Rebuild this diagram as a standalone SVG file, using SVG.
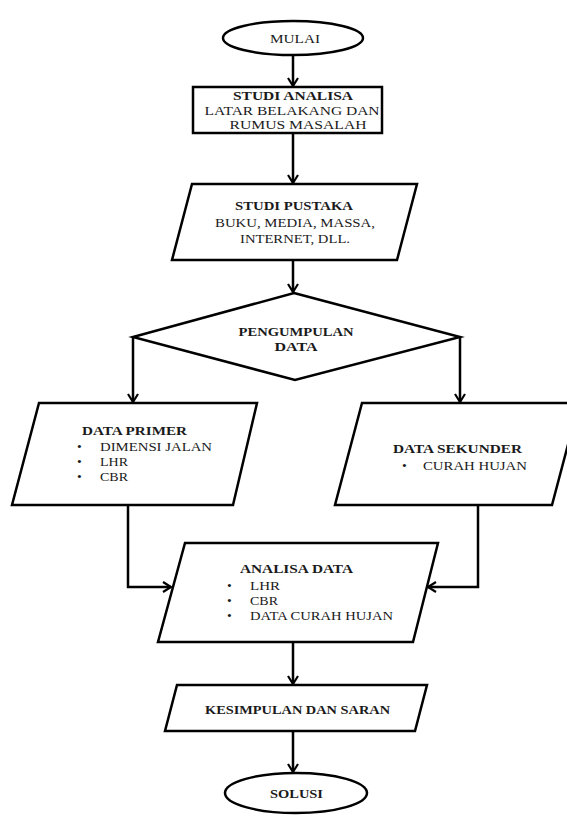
<svg xmlns="http://www.w3.org/2000/svg" width="567" height="818" viewBox="0 0 567 818">
<defs>
<marker id="arr" markerUnits="userSpaceOnUse" markerWidth="14" markerHeight="14" refX="9" refY="6" orient="auto">
<path d="M1,1 L9,6 L1,11" fill="none" stroke="#000" stroke-width="2.2"/>
</marker>
<style>
.s{fill:#fff;stroke:#000;stroke-width:2.5}
.c{fill:none;stroke:#000;stroke-width:2.5;marker-end:url(#arr)}
text{font-family:"Liberation Serif","Times New Roman",serif;font-size:13.5px;fill:#1a1a1a}
.t{font-size:13px}
.b{font-weight:bold}
.m{text-anchor:middle}
</style>
</defs>
<rect width="567" height="818" fill="#fff"/>
<g id="connectors">
<line class="c" x1="293" y1="55" x2="293" y2="86"/>
<line class="c" x1="293" y1="133" x2="293" y2="183"/>
<line class="c" x1="293" y1="260" x2="293" y2="292"/>
<polyline class="c" points="133,337 133,402"/>
<polyline class="c" points="460,337 460,402"/>
<polyline class="c" points="128,505 128,587 171,587"/>
<polyline class="c" points="478,505 478,587 428,587"/>
<line class="c" x1="293" y1="642" x2="293" y2="684"/>
<line class="c" x1="293" y1="731" x2="293" y2="772"/>
</g>
<g id="mulai">
<ellipse class="s" cx="293" cy="38" rx="70" ry="17"/>
<text class="m" x="295" y="43" textLength="50" lengthAdjust="spacingAndGlyphs">MULAI</text>
</g>
<g id="studi-analisa">
<rect class="s" x="193" y="87" width="189" height="46"/>
<text class="m b t" x="293" y="100" textLength="120" lengthAdjust="spacingAndGlyphs">STUDI ANALISA</text>
<text class="m t" x="292" y="114.5" textLength="175" lengthAdjust="spacingAndGlyphs">LATAR BELAKANG DAN</text>
<text class="m t" x="298" y="129" textLength="137" lengthAdjust="spacingAndGlyphs">RUMUS MASALAH</text>
</g>
<g id="studi-pustaka">
<polygon class="s" points="192,184 417,184 397,260 172,260"/>
<text class="m b" x="294" y="210" textLength="118" lengthAdjust="spacingAndGlyphs">STUDI PUSTAKA</text>
<text class="m" x="295" y="227" textLength="160" lengthAdjust="spacingAndGlyphs">BUKU, MEDIA, MASSA,</text>
<text class="m" x="295" y="243" textLength="110" lengthAdjust="spacingAndGlyphs">INTERNET, DLL.</text>
</g>
<g id="pengumpulan-data">
<polygon class="s" points="294,293 460,337 295,380 133,337"/>
<text class="m b t" x="296" y="336" textLength="115" lengthAdjust="spacingAndGlyphs">PENGUMPULAN</text>
<text class="m b t" x="296" y="350.5" textLength="43" lengthAdjust="spacingAndGlyphs">DATA</text>
</g>
<g id="data-primer">
<polygon class="s" points="39,403 257,403 233,505 12,505"/>
<text class="b" x="82" y="435" textLength="105" lengthAdjust="spacingAndGlyphs">DATA PRIMER</text>
<text x="77" y="451">•</text><text x="100" y="451" textLength="112" lengthAdjust="spacingAndGlyphs">DIMENSI JALAN</text>
<text x="77" y="466">•</text><text x="100" y="466" textLength="28" lengthAdjust="spacingAndGlyphs">LHR</text>
<text x="77" y="481">•</text><text x="100" y="481" textLength="28" lengthAdjust="spacingAndGlyphs">CBR</text>
</g>
<g id="data-sekunder">
<polygon class="s" points="362,403 579,403 552,505 335,505"/>
<text class="b" x="393" y="453" textLength="129" lengthAdjust="spacingAndGlyphs">DATA SEKUNDER</text>
<text x="402" y="470">•</text><text x="423" y="470" textLength="104" lengthAdjust="spacingAndGlyphs">CURAH HUJAN</text>
</g>
<g id="analisa-data">
<polygon class="s" points="185,543 438,543 413,642 158,642"/>
<text class="b" x="240" y="573" textLength="113" lengthAdjust="spacingAndGlyphs">ANALISA DATA</text>
<text x="227" y="590">•</text><text x="250" y="590" textLength="30" lengthAdjust="spacingAndGlyphs">LHR</text>
<text x="227" y="605">•</text><text x="250" y="605" textLength="28" lengthAdjust="spacingAndGlyphs">CBR</text>
<text x="227" y="620">•</text><text x="250" y="620" textLength="143" lengthAdjust="spacingAndGlyphs">DATA CURAH HUJAN</text>
</g>
<g id="kesimpulan">
<polygon class="s" points="177,685 427,685 415,731 165,731"/>
<text class="b" x="205" y="714" textLength="185" lengthAdjust="spacingAndGlyphs">KESIMPULAN DAN SARAN</text>
</g>
<g id="solusi">
<ellipse class="s" cx="296" cy="793" rx="71" ry="20"/>
<text class="b" x="270" y="798" textLength="53" lengthAdjust="spacingAndGlyphs">SOLUSI</text>
</g>
</svg>
